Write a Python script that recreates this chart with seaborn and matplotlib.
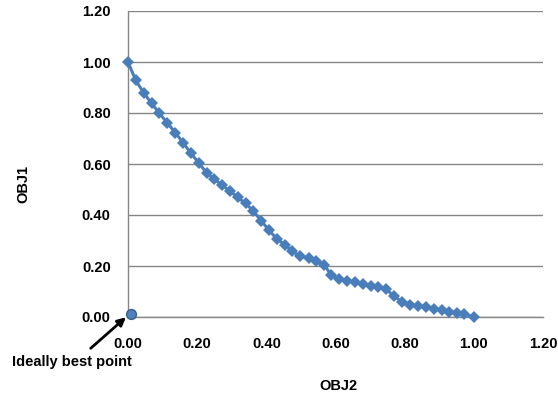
import matplotlib
matplotlib.use("Agg")
import matplotlib.pyplot as plt
import seaborn as sns
import pandas as pd

# Pareto front data (OBJ2 on x, OBJ1 on y)
obj2 = [0.000, 0.022, 0.045, 0.068, 0.091, 0.114, 0.137, 0.159, 0.181, 0.204,
        0.227, 0.250, 0.273, 0.296, 0.317, 0.340, 0.362, 0.385, 0.407, 0.430,
        0.453, 0.474, 0.497, 0.522, 0.545, 0.568, 0.587, 0.610, 0.633, 0.656,
        0.679, 0.702, 0.723, 0.746, 0.769, 0.792, 0.815, 0.838, 0.861, 0.884,
        0.907, 0.929, 0.951, 0.972, 1.000]
obj1 = [1.000, 0.929, 0.880, 0.838, 0.799, 0.760, 0.723, 0.684, 0.644, 0.605,
        0.566, 0.540, 0.516, 0.493, 0.469, 0.446, 0.416, 0.378, 0.341, 0.307,
        0.284, 0.259, 0.239, 0.231, 0.220, 0.204, 0.165, 0.148, 0.142, 0.137,
        0.129, 0.123, 0.119, 0.109, 0.082, 0.060, 0.047, 0.043, 0.038, 0.031,
        0.027, 0.020, 0.017, 0.012, 0.000]

ideal_x = [0.008]
ideal_y = [0.012]

ticks = [0.0, 0.2, 0.4, 0.6, 0.8, 1.0, 1.2]
tick_labels = ["0.00", "0.20", "0.40", "0.60", "0.80", "1.00", "1.20"]

sns.set_theme(style="white")
plt.rcParams['font.family'] = ['Liberation Sans', 'DejaVu Sans']

df = pd.DataFrame({"OBJ2": obj2, "OBJ1": obj1})
ideal = pd.DataFrame({"OBJ2": ideal_x, "OBJ1": ideal_y})

fig = plt.figure(figsize=(5.58, 3.99), dpi=100)
ax = fig.add_axes([128 / 558, 1 - 317 / 399, 415 / 558, 306 / 399])

blue = "#4A7EBB"
sns.lineplot(data=df, x="OBJ2", y="OBJ1", sort=False, ax=ax, color=blue,
             linewidth=2.2, marker="D", markersize=6.0, markeredgewidth=0,
             markerfacecolor=blue, zorder=3, clip_on=False)
sns.scatterplot(data=ideal, x="OBJ2", y="OBJ1", ax=ax, color="#4F81BD",
                edgecolor="#385D8A", linewidth=1, s=50, zorder=4, clip_on=False)

ax.set_xlim(0, 1.2)
ax.set_ylim(0, 1.2)
ax.set_xticks(ticks)
ax.set_xticklabels(tick_labels)
ax.set_yticks(ticks)
ax.set_yticklabels(tick_labels)

grid_c = "#868686"
ax.yaxis.grid(True, color=grid_c, linewidth=1.0)
ax.xaxis.grid(False)
ax.set_axisbelow(True)
for s in ["top", "right"]:
    ax.spines[s].set_visible(False)
for s in ["left", "bottom"]:
    ax.spines[s].set_color(grid_c)
    ax.spines[s].set_linewidth(1.0)

ax.tick_params(axis="both", which="major", direction="out", length=3.5,
               width=1.0, color=grid_c, labelsize=10.5, labelcolor="black")
ax.tick_params(axis="y", pad=9)
ax.tick_params(axis="x", pad=11)
for lab in ax.get_xticklabels() + ax.get_yticklabels():
    lab.set_fontweight("bold")

ax.set_xlabel("OBJ2", fontsize=10.5, fontweight="bold", color="black")
ax.set_ylabel("OBJ1", fontsize=10.5, fontweight="bold", color="black")
ax.xaxis.label.set_va("center")
ax.yaxis.label.set_va("center")
ax.xaxis.set_label_coords((338 - 128) / 415, (317 - 385.5) / 306)
ax.yaxis.set_label_coords((23 - 128) / 415, (317 - 184) / 306)

ax.annotate("", xy=(-0.006, -0.001), xycoords="data",
            xytext=(90.7, 399 - 348.3), textcoords="figure pixels",
            arrowprops=dict(arrowstyle="-|>", color="black", lw=2.0,
                            mutation_scale=12, shrinkA=0, shrinkB=0),
            annotation_clip=False)
fig.text(72 / 558, 1 - 362 / 399, "Ideally best point", ha="center",
         va="center", fontsize=10.5, fontweight="bold", color="black")

fig.savefig("out.png", dpi=100)
